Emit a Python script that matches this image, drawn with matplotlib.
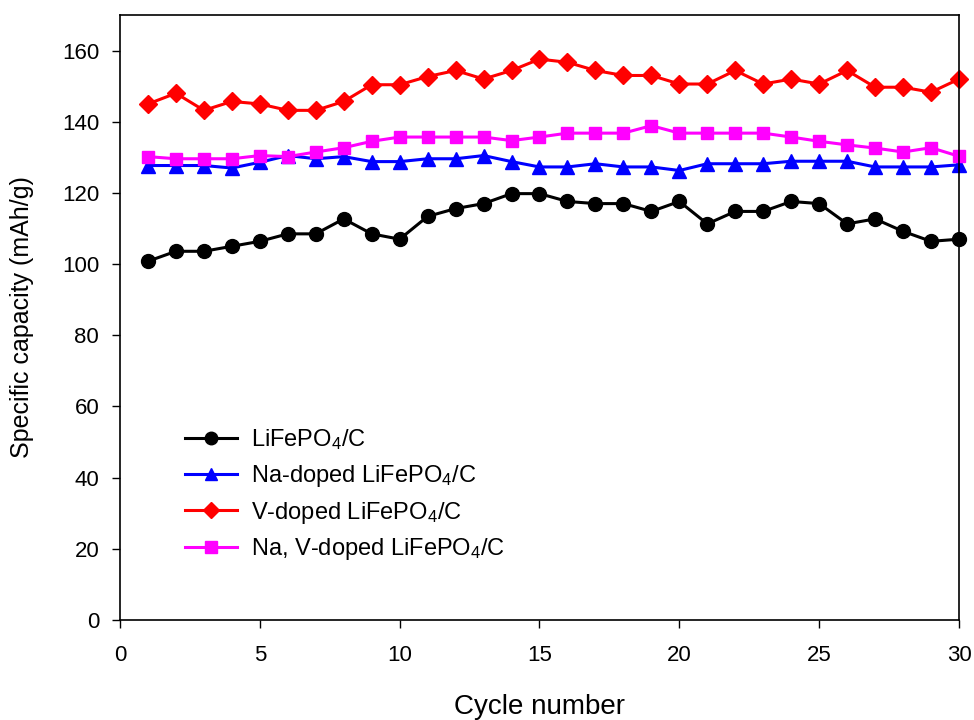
import matplotlib
matplotlib.use('Agg')
import matplotlib.pyplot as plt

plt.rcParams['font.family'] = ['Liberation Sans', 'DejaVu Sans']
plt.rcParams['mathtext.default'] = 'regular'

# Data
cycles = list(range(1, 31))
lfp = [100.8, 103.6, 103.6, 105.0, 106.4, 108.5, 108.5, 112.7, 108.5, 107.0,
       113.4, 115.6, 117.0, 119.8, 119.8, 117.6, 117.0, 117.0, 114.8, 117.6,
       111.3, 114.8, 114.8, 117.6, 117.0, 111.3, 112.7, 109.2, 106.4, 107.0]
na_lfp = [127.7, 127.7, 127.7, 127.0, 128.6, 130.5, 129.6, 130.2, 128.8, 128.8,
          129.6, 129.6, 130.5, 128.8, 127.3, 127.3, 128.2, 127.3, 127.3, 126.3,
          128.2, 128.2, 128.2, 128.9, 128.9, 128.9, 127.3, 127.3, 127.3, 127.9]
v_lfp = [145.0, 148.0, 143.2, 145.7, 145.0, 143.2, 143.2, 145.7, 150.4, 150.4,
         152.7, 154.4, 152.0, 154.4, 157.6, 156.7, 154.4, 153.0, 153.0, 150.6,
         150.6, 154.4, 150.6, 152.0, 150.6, 154.4, 149.7, 149.7, 148.3, 152.0]
nav_lfp = [130.2, 129.6, 129.6, 129.6, 130.5, 130.2, 131.5, 132.7, 134.5, 135.7,
           135.7, 135.7, 135.7, 134.7, 135.7, 136.8, 136.8, 136.8, 138.9, 136.8,
           136.8, 136.8, 136.8, 135.7, 134.5, 133.5, 132.6, 131.5, 132.7, 130.3]

series = [
    (lfp, 'LiFePO$_4$/C', 'black', 'o', 10),
    (na_lfp, 'Na-doped LiFePO$_4$/C', 'blue', '^', 10),
    (v_lfp, 'V-doped LiFePO$_4$/C', 'red', 'D', 9),
    (nav_lfp, 'Na, V-doped LiFePO$_4$/C', 'magenta', 's', 9),
]

fig = plt.figure(figsize=(9.74, 7.2), dpi=100)
ax = fig.add_axes([0.1232, 0.1389, 0.8614, 0.8403])

for values, label, color, marker, ms in series:
    ax.plot(cycles, values, color=color, marker=marker, markersize=ms,
            linewidth=2.2, label=label, clip_on=False)

ax.set_xlim(0, 30)
ax.set_ylim(0, 170)
ax.set_xticks(range(0, 31, 5))
ax.set_yticks(range(0, 161, 20))
ax.tick_params(direction='out', length=6, width=1, labelsize=16)
ax.tick_params(axis='x', pad=12)
ax.tick_params(axis='y', pad=9)
for sp in ax.spines.values():
    sp.set_linewidth(1.2)

ax.set_xlabel('Cycle number', fontsize=20, labelpad=20)
ax.set_ylabel('Specific capacity (mAh/g)', fontsize=18, labelpad=20)

ax.legend(loc='upper left', bbox_to_anchor=(0.0775, 0.318), frameon=False,
          fontsize=17, handlelength=2.2, handletextpad=0.6, labelspacing=0.45,
          borderpad=0, borderaxespad=0, markerscale=0.9)

fig.savefig('out.png', dpi=100, facecolor='white')
